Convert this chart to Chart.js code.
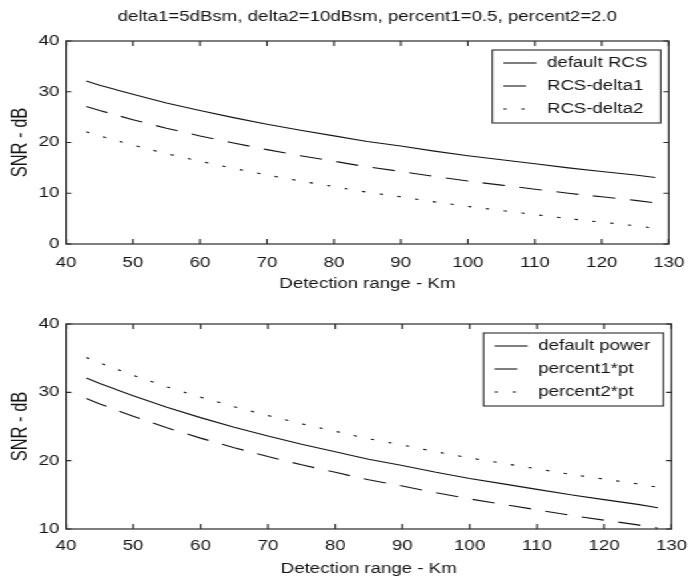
<!DOCTYPE html>
<html>
<head>
<meta charset="utf-8">
<script src="https://cdn.jsdelivr.net/npm/chart.js@4/dist/chart.umd.min.js"></script>
<style>
  html, body { margin: 0; padding: 0; background: #fff; overflow: hidden; }
  /* the source figure is stretched sideways, so the charts are drawn narrow and widened */
  #stretch { position: absolute; left: 0; top: 0; width: 525px; height: 585px; transform: scaleX(1.3314); transform-origin: 0 0; }
  #top { position: absolute; left: 0; top: 0; }
  #bottom { position: absolute; left: 0; top: 300px; }
</style>
</head>
<body>
<div id="stretch">
  <canvas id="top" width="525" height="300"></canvas>
  <canvas id="bottom" width="525" height="285"></canvas>
</div>
<script>
// detection range (km) and SNR (dB)
var range = [43, 45, 50, 55, 60, 65, 70, 75, 80, 85, 90, 95, 100, 105, 110, 115, 120, 125, 128];
var snrDefault  = [32.1, 31.3, 29.5, 27.8, 26.3, 24.9, 23.6, 22.4, 21.3, 20.2, 19.3, 18.3, 17.4, 16.6, 15.8, 15.0, 14.3, 13.6, 13.1];
var snrDelta1   = [27.1, 26.3, 24.5, 22.8, 21.3, 19.9, 18.6, 17.4, 16.3, 15.2, 14.3, 13.3, 12.4, 11.6, 10.8, 10.0, 9.3, 8.6, 8.1];
var snrDelta2   = [22.1, 21.3, 19.5, 17.8, 16.3, 14.9, 13.6, 12.4, 11.3, 10.2, 9.3, 8.3, 7.4, 6.6, 5.8, 5.0, 4.3, 3.6, 3.1];
var snrPercent1 = [29.1, 28.3, 26.5, 24.8, 23.3, 21.9, 20.6, 19.4, 18.3, 17.2, 16.3, 15.3, 14.4, 13.6, 12.8, 12.0, 11.3, 10.6, 10.1];
var snrPercent2 = [35.1, 34.3, 32.5, 30.8, 29.3, 27.9, 26.6, 25.4, 24.3, 23.2, 22.3, 21.3, 20.4, 19.6, 18.8, 18.0, 17.3, 16.6, 16.1];

var xTicks = [40, 50, 60, 70, 80, 90, 100, 110, 120, 130];
var yTicksTop = [0, 10, 20, 30, 40];
var yTicksBottom = [10, 20, 30, 40];

var FONT = '"Liberation Sans", Arial, Helvetica, sans-serif';
var INK = '#141414';
var FRAME = '#2a2a2a';
var LONG_DASH = [17, 11];
var DOTS = [2.5, 11];

function pts(ys) {
  return range.map(function (x, i) { return { x: x, y: ys[i] }; });
}

function series(label, ys, dash) {
  return {
    label: label,
    data: pts(ys),
    borderColor: INK,
    borderWidth: 1.1,
    borderDash: dash,
    pointRadius: 0,
    fill: false,
    tension: 0
  };
}

// box round the plot, inward ticks on all sides and a boxed legend in the corner
var matlabFrame = {
  id: 'matlabFrame',
  afterDatasetsDraw: function (chart) {
    var ctx = chart.ctx, a = chart.chartArea, sx = chart.scales.x, sy = chart.scales.y;
    ctx.save();
    ctx.strokeStyle = FRAME;
    ctx.lineWidth = 1.2;
    ctx.setLineDash([]);
    ctx.strokeRect(a.left, a.top, a.right - a.left, a.bottom - a.top);
    ctx.beginPath();
    sx.ticks.forEach(function (t) {
      var px = sx.getPixelForValue(t.value);
      ctx.moveTo(px, a.bottom); ctx.lineTo(px, a.bottom - 5);
      ctx.moveTo(px, a.top); ctx.lineTo(px, a.top + 5);
    });
    sy.ticks.forEach(function (t) {
      var py = sy.getPixelForValue(t.value);
      ctx.moveTo(a.left, py); ctx.lineTo(a.left + 4, py);
      ctx.moveTo(a.right, py); ctx.lineTo(a.right - 4, py);
    });
    ctx.stroke();
    ctx.restore();
  },
  afterDraw: function (chart) {
    var ctx = chart.ctx, a = chart.chartArea;
    var sets = chart.data.datasets;
    ctx.save();
    ctx.font = '14px ' + FONT;
    var textW = Math.max.apply(null, sets.map(function (d) { return ctx.measureText(d.label).width; }));
    var padL = 8.3, sample = 24.8, gap = 8, padR = 10;
    var w = padL + sample + gap + textW + padR;
    var h = 73;
    var x0 = a.right - 6 - w, y0 = a.top + 9;
    ctx.fillStyle = '#fff';
    ctx.fillRect(x0, y0, w, h);
    ctx.strokeStyle = FRAME;
    ctx.lineWidth = 1.1;
    ctx.strokeRect(x0, y0, w, h);
    sets.forEach(function (d, i) {
      var y = y0 + 13 + i * 23;
      ctx.beginPath();
      ctx.setLineDash(d.borderDash || []);
      ctx.strokeStyle = d.borderColor;
      ctx.lineWidth = d.borderWidth;
      ctx.moveTo(x0 + padL, y);
      ctx.lineTo(x0 + padL + sample, y);
      ctx.stroke();
      ctx.setLineDash([]);
      ctx.fillStyle = INK;
      ctx.textAlign = 'left';
      ctx.textBaseline = 'middle';
      ctx.fillText(d.label, x0 + padL + sample + gap, y);
    });
    ctx.restore();
  }
};

function makeOptions(yMin, yTicks, title, padTop, labelPad) {
  return {
    responsive: false,
    animation: false,
    layout: { padding: { left: 0, right: 11, top: padTop, bottom: 0 } },
    plugins: {
      legend: { display: false },
      tooltip: { enabled: false },
      title: title
    },
    scales: {
      x: {
        type: 'linear',
        min: 40,
        max: 130,
        afterBuildTicks: function (s) { s.ticks = xTicks.map(function (v) { return { value: v }; }); },
        afterFit: function (s) { s.height = 56; },
        grid: { display: false, drawTicks: false },
        border: { display: false },
        ticks: { color: INK, font: { family: FONT, size: 14 }, padding: labelPad, maxRotation: 0, autoSkip: false },
        title: { display: true, text: 'Detection range - Km', color: INK, font: { family: FONT, size: 14 }, padding: { top: 0, bottom: 7 } }
      },
      y: {
        type: 'linear',
        min: yMin,
        max: 40,
        afterBuildTicks: function (s) { s.ticks = yTicks.map(function (v) { return { value: v }; }); },
        afterFit: function (s) { s.width = 49.6; },
        grid: { display: false, drawTicks: false },
        border: { display: false },
        ticks: { color: INK, font: { family: FONT, size: 14 }, padding: 5 },
        title: { display: true, text: 'SNR - dB', color: INK, font: { family: FONT, size: 16.5 }, padding: { top: 6, bottom: 0 } }
      }
    }
  };
}

var topChart = new Chart(document.getElementById('top').getContext('2d'), {
  type: 'line',
  data: {
    datasets: [
      series('default RCS', snrDefault, []),
      series('RCS-delta1', snrDelta1, LONG_DASH),
      series('RCS-delta2', snrDelta2, DOTS)
    ]
  },
  options: makeOptions(0, yTicksTop, {
    display: true,
    fullSize: false,
    text: 'delta1=5dBsm, delta2=10dBsm, percent1=0.5, percent2=2.0',
    color: INK,
    font: { family: FONT, size: 14, weight: 'normal' },
    padding: { top: 8.6, bottom: 15.6 }
  }, 0, 11),
  plugins: [matlabFrame]
});

var bottomChart = new Chart(document.getElementById('bottom').getContext('2d'), {
  type: 'line',
  data: {
    datasets: [
      series('default power', snrDefault, []),
      series('percent1*pt', snrPercent1, LONG_DASH),
      series('percent2*pt', snrPercent2, DOTS)
    ]
  },
  options: makeOptions(10, yTicksBottom, { display: false }, 24, 9),
  plugins: [matlabFrame]
});
</script>
</body>
</html>
